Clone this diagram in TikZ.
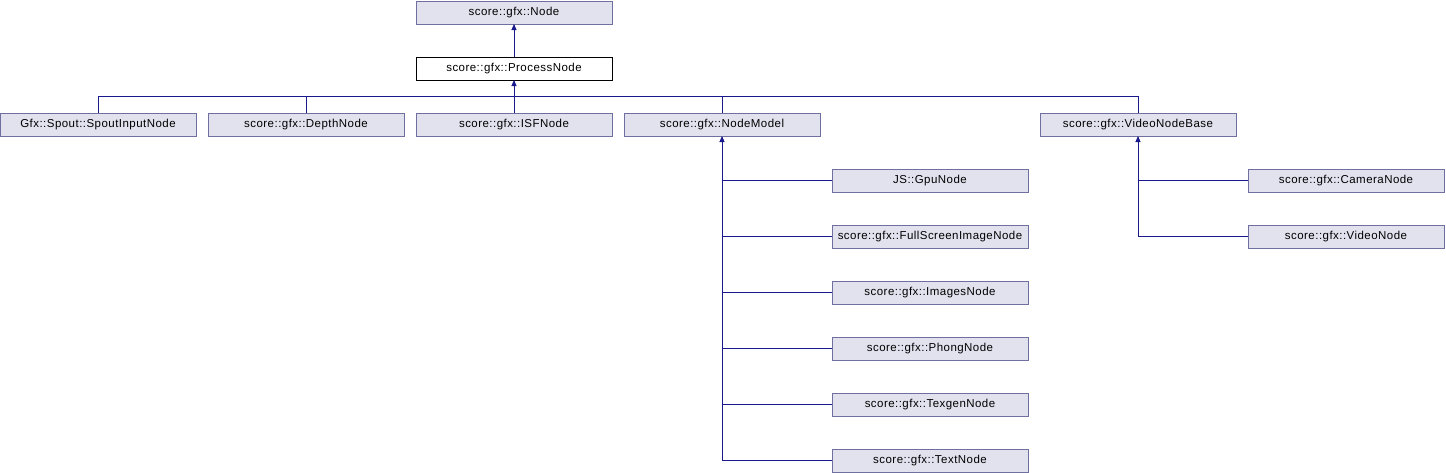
\documentclass[tikz,border=0pt]{standalone}
\usepackage{fontspec}
\setmainfont{Liberation Sans}[LetterSpace=4]
\usetikzlibrary{arrows.meta}
\usetikzlibrary{calc}
\usetikzlibrary{positioning}
\definecolor{boxfill}{HTML}{E2E2EF}
\definecolor{boxline}{HTML}{7070A0}
\definecolor{linkblue}{HTML}{1A1A8C}
\tikzset{
  every picture/.style={font={\fontsize{11.5}{14}\selectfont}, >={Triangle[length=6pt,width=5pt]}},
  every node/.style={inner sep=0pt, outer sep=0pt}}

\begin{document}
\begin{tikzpicture}[x=1pt, y=1pt, node distance=33pt and 12pt,
    cls/.style={draw=boxline, fill=boxfill, minimum width=196pt, minimum height=23pt},
    current/.style={draw=black, fill=white, minimum width=196pt, minimum height=23pt},
    link/.style={draw=linkblue, line width=0.9pt}]

    \useasboundingbox (0,0) rectangle (1446,-472);

    % base classes
    \node[cls] (N) at (514,-12.5) {score::gfx::Node};
    \node[current] (PN) [below=of N] {score::gfx::ProcessNode};

    % direct subclasses
    \node[cls] (ISF) [below=of PN] {score::gfx::ISFNode};
    \node[cls] (Depth) [left=of ISF] {score::gfx::DepthNode};
    \node[cls] (Spout) [left=of Depth] {Gfx::Spout::SpoutInputNode};
    \node[cls] (NM) [right=of ISF] {score::gfx::NodeModel};
    \node[cls] (VNB) [right=220pt of NM] {score::gfx::VideoNodeBase};

    % subclasses of NodeModel
    \node[cls] (JS) [below right=of NM] {JS::GpuNode};
    \node[cls] (FSI) [below=of JS] {score::gfx::FullScreenImageNode};
    \node[cls] (Img) [below=of FSI] {score::gfx::ImagesNode};
    \node[cls] (Phong) [below=of Img] {score::gfx::PhongNode};
    \node[cls] (Texgen) [below=of Phong] {score::gfx::TexgenNode};
    \node[cls] (Text) [below=of Texgen] {score::gfx::TextNode};

    % subclasses of VideoNodeBase
    \node[cls] (Cam) [below right=of VNB] {score::gfx::CameraNode};
    \node[cls] (Vid) [below=of Cam] {score::gfx::VideoNode};

    \draw[link, ->] (PN) -- (N);

    \coordinate (bus) at ($(PN.south)+(0,-16)$);
    \foreach \c in {Spout, Depth, ISF, NM, VNB}
      \draw[link] (\c.north) |- (bus);
    \draw[link, ->] (bus) -- (PN.south);

    \draw[link, ->] (Text.west) -| (NM.south);
    \foreach \c in {JS, FSI, Img, Phong, Texgen}
      \draw[link] (\c.west) -- (\c.west -| NM.south);

    \draw[link, ->] (Vid.west) -| (VNB.south);
    \draw[link] (Cam.west) -- (Cam.west -| VNB.south);
\end{tikzpicture}
\end{document}
